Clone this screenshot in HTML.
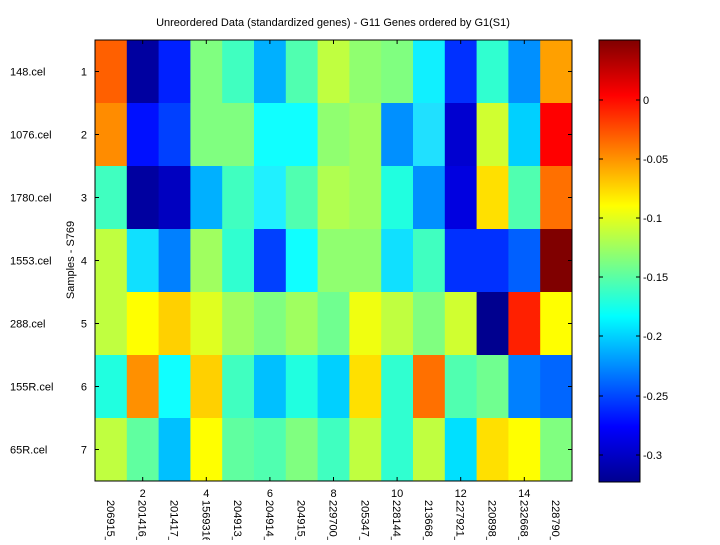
<!DOCTYPE html>
<html><head><style>
body{margin:0;background:#fff;width:720px;height:540px;overflow:hidden;font-family:"Liberation Sans",sans-serif;}
</style></head><body>
<svg width="720" height="540" xmlns="http://www.w3.org/2000/svg" font-family="Liberation Sans, sans-serif" font-size="11">
<defs>
<linearGradient id="jet" x1="0" y1="1" x2="0" y2="0">
<stop offset="0" stop-color="#00008f"/><stop offset="0.125" stop-color="#0000ff"/>
<stop offset="0.375" stop-color="#00ffff"/><stop offset="0.625" stop-color="#ffff00"/>
<stop offset="0.875" stop-color="#ff0000"/><stop offset="1" stop-color="#800000"/>
</linearGradient>
</defs>
<text x="333" y="26" text-anchor="middle">Unreordered Data (standardized genes) - G11 Genes ordered by G1(S1)</text>
<g id="cells"></g>
<rect x="95" y="40" width="477" height="441" fill="none" stroke="#000"/>
<rect x="599" y="40" width="41" height="442" fill="url(#jet)" stroke="#000"/>
<g id="ticks" stroke="#000"></g>
<g id="labels"></g>
<text transform="translate(74,260) rotate(-90)" text-anchor="middle">Samples - S769</text>
</svg>
<script>
const rows=[
["#ff6000","#0000a0","#0020ff","#80ff80","#40ffc0","#00b0ff","#50ffb0","#c0ff40","#90ff70","#80ff80","#10f0ff","#0030ff","#30ffd0","#0090ff","#ffa000"],
["#ff8c00","#0010ff","#0040ff","#80ff80","#80ff80","#10ffff","#10ffff","#90ff70","#a0ff60","#0090ff","#20e0ff","#0000d0","#d0ff30","#00d0ff","#ff0000"],
["#40ffc0","#0000a0","#0000c0","#00b0ff","#40ffc0","#20f0ff","#50ffb0","#b0ff50","#a0ff60","#20ffe0","#0090ff","#0000e0","#ffe000","#50ffb0","#ff7000"],
["#c0ff40","#10e0ff","#0080ff","#a0ff60","#30ffd0","#0040ff","#10ffff","#90ff70","#90ff70","#10e0ff","#40ffc0","#0030ff","#0030ff","#0060ff","#800000"],
["#c0ff40","#ffff00","#ffd000","#e0ff20","#a0ff60","#80ff80","#a0ff60","#70ff90","#f0ff10","#c0ff40","#80ff80","#d0ff30","#00008f","#ff2000","#ffff00"],
["#20ffe0","#ff9000","#10ffff","#ffd000","#40ffc0","#00c0ff","#20ffe0","#00d0ff","#ffe000","#30ffd0","#ff7000","#50ffb0","#70ff90","#0080ff","#0066ff"],
["#c0ff40","#60ffa0","#00c0ff","#ffff00","#60ffa0","#50ffb0","#80ff80","#40ffc0","#c0ff40","#30ffd0","#c0ff40","#00e0ff","#ffe000","#ffff00","#80ff80"]];
const NS="http://www.w3.org/2000/svg";
const cw=477/15,rh=441/7;
const g=document.getElementById("cells"),t=document.getElementById("ticks"),l=document.getElementById("labels");
function el(p,n,a,txt){const e=document.createElementNS(NS,n);for(const k in a)e.setAttribute(k,a[k]);if(txt!=null)e.textContent=txt;p.appendChild(e);return e;}
rows.forEach((r,i)=>r.forEach((c,j)=>el(g,"rect",{x:95+j*cw,y:40+i*rh,width:cw+0.5,height:rh+0.5,fill:c})));
const names=["148.cel","1076.cel","1780.cel","1553.cel","288.cel","155R.cel","65R.cel"];
names.forEach((n,i)=>{const y=40+(i+0.5)*rh;
el(t,"line",{x1:95,y1:y,x2:99,y2:y});el(t,"line",{x1:572,y1:y,x2:568,y2:y});
el(l,"text",{x:87,y:y+4,"text-anchor":"end"},String(i+1));
el(l,"text",{x:10,y:y+4},n);});
const genes=["206915_","201416_","201417_","1569316","204913_","204914_","204915_","229700_","205347_","228144_","213668_","227921_","220898_","232668_","228790_"];
genes.forEach((gn,j)=>{const x=95+(j+0.5)*cw;
if(j%2==1){el(t,"line",{x1:x,y1:481,x2:x,y2:477});el(t,"line",{x1:x,y1:40,x2:x,y2:44});
el(l,"text",{x:x,y:497,"text-anchor":"middle"},String(j+1));}
el(l,"text",{transform:`translate(${x-4},500) rotate(90)`},gn);});
[["0",100],["-0.05",159],["-0.1",218],["-0.15",277],["-0.2",336],["-0.25",396],["-0.3",455]].forEach(([s,y])=>{
el(t,"line",{x1:599,y1:y,x2:603,y2:y});el(t,"line",{x1:640,y1:y,x2:636,y2:y});
el(l,"text",{x:643,y:y+4},s);});
</script>
</body></html>
